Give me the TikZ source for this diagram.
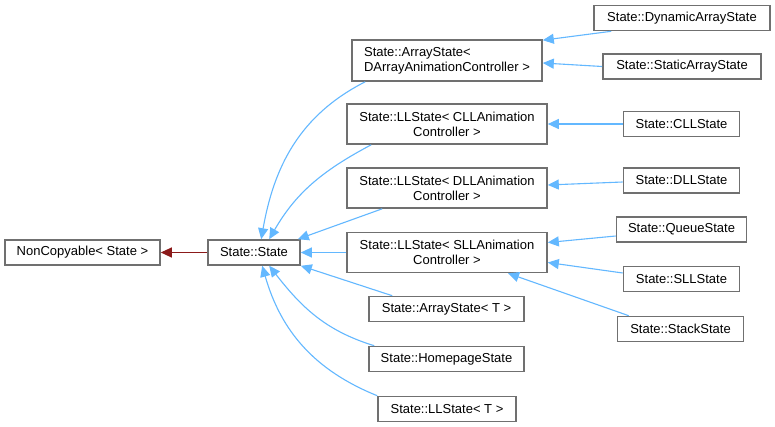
\documentclass[tikz,border=0pt]{standalone}
\usepackage{fontspec}
\setmainfont{Liberation Sans}
\usetikzlibrary{arrows.meta}
\definecolor{edgeblue}{HTML}{63B8FF}
\definecolor{edgered}{HTML}{8B1A1A}
\definecolor{boxgray}{HTML}{707070}
\begin{document}
\begin{tikzpicture}[x=1pt,y=1pt,
  cls/.style={draw=boxgray, line width=1.6pt, fill=white, inner sep=0pt,
    minimum height=25pt, font=\fontsize{13}{15}\selectfont, align=center},
  cls2/.style={cls, minimum height=40pt},
  inh/.style={draw=edgeblue, line width=1.1pt, -{Triangle[length=11pt,width=10pt]}},
  priv/.style={draw=edgered, line width=1.1pt, -{Triangle[length=11pt,width=10pt]}}]
\useasboundingbox[fill=white] (0,0) rectangle (775,-427);

\node[cls, minimum width=155pt] (nc) at (82.5,-252.5) {NonCopyable< State >};
\node[cls, minimum width=92pt] (st) at (254,-252.5) {State::State};

\node[cls2, minimum width=190pt, minimum height=41pt, align=left] (adac) at (447,-60.5) {State::ArrayState<\\ DArrayAnimationController >};
\node[cls2, minimum width=200pt] (cll) at (447,-124) {State::LLState< CLLAnimation\\Controller >};
\node[cls2, minimum width=200pt] (dll) at (447,-188) {State::LLState< DLLAnimation\\Controller >};
\node[cls2, minimum width=200pt] (sll) at (447,-252.5) {State::LLState< SLLAnimation\\Controller >};
\node[cls, minimum width=155pt] (at) at (446.5,-309) {State::ArrayState< T >};
\node[cls, minimum width=155pt] (hp) at (446.5,-359) {State::HomepageState};
\node[cls, minimum width=138pt] (llt) at (447,-409) {State::LLState< T >};

\node[cls, minimum width=176pt] (dyn) at (682,-18) {State::DynamicArrayState};
\node[cls, minimum width=158pt] (sta) at (682,-66.5) {State::StaticArrayState};
\node[cls, minimum width=116pt] (cllS) at (681.5,-124) {State::CLLState};
\node[cls, minimum width=116pt] (dllS) at (681.5,-180.5) {State::DLLState};
\node[cls, minimum width=130pt] (que) at (681.5,-229.5) {State::QueueState};
\node[cls, minimum width=116pt] (sllS) at (681.5,-279) {State::SLLState};
\node[cls, minimum width=126pt] (stk) at (680.5,-329) {State::StackState};

% private inheritance
\draw[priv] (st.west) -- (nc.east);

% into State::State
\draw[inh] ([xshift=14pt]adac.south west) to[out=207,in=80] ([xshift=54pt]st.north west);
\draw[inh] ([xshift=25pt]cll.south west) to[out=208,in=60] ([xshift=62pt]st.north west);
\draw[inh] ([xshift=36pt]dll.south west) -- ([xshift=-3pt]st.north east);
\draw[inh] (sll.west) -- (st.east);
\draw[inh] ([xshift=24pt]at.north west) -- (st.south east);
\draw[inh] ([xshift=6pt]hp.north west) to[out=163,in=-52] ([xshift=62pt]st.south west);
\draw[inh] (llt.north west) to[out=158,in=-74] ([xshift=55pt]st.south west);

% right column
\draw[inh] ([xshift=18pt]dyn.south west) -- ([yshift=-1pt]adac.north east);
\draw[inh] (sta.west) -- ([yshift=-2.5pt]adac.east);
\draw[inh] (cllS.west) -- (cll.east);
\draw[inh] ([yshift=-1.5pt]dllS.west) -- ([yshift=3pt]dll.east);
\draw[inh] ([yshift=-6.5pt]que.west) -- ([yshift=10pt]sll.east);
\draw[inh] ([yshift=6pt]sllS.west) -- ([yshift=-10pt]sll.east);
\draw[inh] ([xshift=12pt]stk.north west) -- ([xshift=61pt]sll.south);
\end{tikzpicture}
\end{document}
